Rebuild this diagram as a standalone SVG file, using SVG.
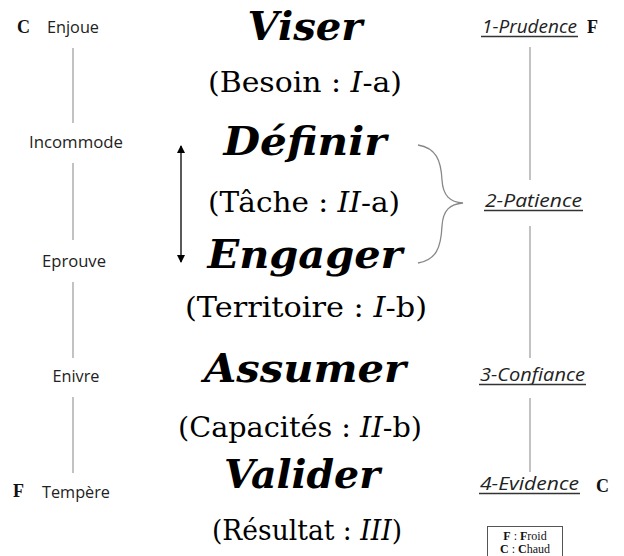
<svg xmlns="http://www.w3.org/2000/svg" width="624" height="556" viewBox="0 0 624 556">
<defs>
<style>
.verb{font-family:"DejaVu Serif",serif;font-weight:bold;font-style:italic;font-size:39px;fill:#000;text-anchor:middle}
.sub{font-family:"DejaVu Serif",serif;font-size:27px;fill:#000;text-anchor:middle}
.sub .it{font-style:italic}
.left{font-family:"Open Sans","Liberation Sans",sans-serif;font-size:16.5px;fill:#222;text-anchor:middle}
.right{font-family:"Open Sans","Liberation Sans",sans-serif;font-style:italic;font-size:18px;fill:#222}
.mark{font-family:"Liberation Serif",serif;font-weight:bold;font-size:18px;fill:#111}
.ul{stroke:#333;stroke-width:1.3}
.vline{stroke:#9a9a9a;stroke-width:1.2}
.leg{font-family:"Liberation Serif",serif;font-size:12px;fill:#111;text-anchor:middle}
</style>
<marker id="ah" markerWidth="8" markerHeight="8" refX="7" refY="4" orient="auto-start-reverse" markerUnits="userSpaceOnUse">
<path d="M0,0 L8,4 L0,8 Z" fill="#000"/>
</marker>
</defs>
<rect width="624" height="556" fill="#fff"/>

<g id="connectors">
<line class="vline" x1="73" y1="48" x2="73" y2="123"/>
<line class="vline" x1="73" y1="163" x2="73" y2="240"/>
<line class="vline" x1="73" y1="282" x2="73" y2="358"/>
<line class="vline" x1="73" y1="397" x2="73" y2="473"/>
<line class="vline" x1="530" y1="47" x2="530" y2="180"/>
<line class="vline" x1="530" y1="226" x2="530" y2="358"/>
<line class="vline" x1="530" y1="398" x2="530" y2="472"/>
<line x1="181" y1="146" x2="181" y2="262" stroke="#000" stroke-width="1.3" marker-start="url(#ah)" marker-end="url(#ah)"/>
<path d="M418,145 C436,148 441,160 442,180 C443,196 450,202 463,203 C450,204 443,210 442,226 C441,248 436,260 418,263" fill="none" stroke="#888" stroke-width="1.3"/>
</g>

<g id="verbs">
<text class="verb" x="305" y="40" textLength="115" lengthAdjust="spacingAndGlyphs">Viser</text>
<text class="verb" x="305" y="155" textLength="163" lengthAdjust="spacingAndGlyphs">Définir</text>
<text class="verb" x="305" y="268" textLength="195" lengthAdjust="spacingAndGlyphs">Engager</text>
<text class="verb" x="305" y="382" textLength="202" lengthAdjust="spacingAndGlyphs">Assumer</text>
<text class="verb" x="302" y="488" textLength="156" lengthAdjust="spacingAndGlyphs">Valider</text>
</g>

<g id="subs">
<text class="sub" x="305" y="92" textLength="194" lengthAdjust="spacingAndGlyphs">(Besoin : <tspan class="it">I</tspan>-a)</text>
<text class="sub" x="304" y="212" textLength="192" lengthAdjust="spacingAndGlyphs">(Tâche : <tspan class="it">II</tspan>-a)</text>
<text class="sub" x="306" y="317" textLength="242" lengthAdjust="spacingAndGlyphs">(Territoire : <tspan class="it">I</tspan>-b)</text>
<text class="sub" x="300" y="437" textLength="244" lengthAdjust="spacingAndGlyphs">(Capacités : <tspan class="it">II</tspan>-b)</text>
<text class="sub" x="307" y="540" textLength="190" lengthAdjust="spacingAndGlyphs">(Résultat : <tspan class="it">III</tspan>)</text>
</g>

<g id="left-column">
<text class="mark" x="17" y="33">C</text>
<text class="left" x="73" y="33" textLength="52" lengthAdjust="spacingAndGlyphs">Enjoue</text>
<text class="left" x="76" y="148" textLength="94" lengthAdjust="spacingAndGlyphs">Incommode</text>
<text class="left" x="74" y="267" textLength="64" lengthAdjust="spacingAndGlyphs">Eprouve</text>
<text class="left" x="76" y="382" textLength="47" lengthAdjust="spacingAndGlyphs">Enivre</text>
<text class="mark" x="13" y="497">F</text>
<text class="left" x="76" y="498" textLength="68" lengthAdjust="spacingAndGlyphs">Tempère</text>
</g>

<g id="right-column">
<text class="right" x="482" y="33" textLength="95" lengthAdjust="spacingAndGlyphs">1-Prudence</text>
<line class="ul" x1="481" y1="36.5" x2="578" y2="36.5"/>
<text class="mark" x="587" y="33">F</text>
<text class="right" x="485" y="207" textLength="97" lengthAdjust="spacingAndGlyphs">2-Patience</text>
<line class="ul" x1="484" y1="210.5" x2="583" y2="210.5"/>
<text class="right" x="480" y="381" textLength="105" lengthAdjust="spacingAndGlyphs">3-Confiance</text>
<line class="ul" x1="479" y1="384.5" x2="586" y2="384.5"/>
<text class="right" x="480" y="490" textLength="99" lengthAdjust="spacingAndGlyphs">4-Evidence</text>
<line class="ul" x1="479" y1="493.5" x2="580" y2="493.5"/>
<text class="mark" x="596" y="492">C</text>
</g>

<g id="legend">
<rect x="487.5" y="526.5" width="75" height="34" fill="#fff" stroke="#555" stroke-width="1"/>
<text class="leg" x="525" y="539.5"><tspan font-weight="bold">F</tspan> : <tspan font-weight="bold">F</tspan>roid</text>
<text class="leg" x="525" y="553"><tspan font-weight="bold">C</tspan> : <tspan font-weight="bold">C</tspan>haud</text>
</g>
</svg>
